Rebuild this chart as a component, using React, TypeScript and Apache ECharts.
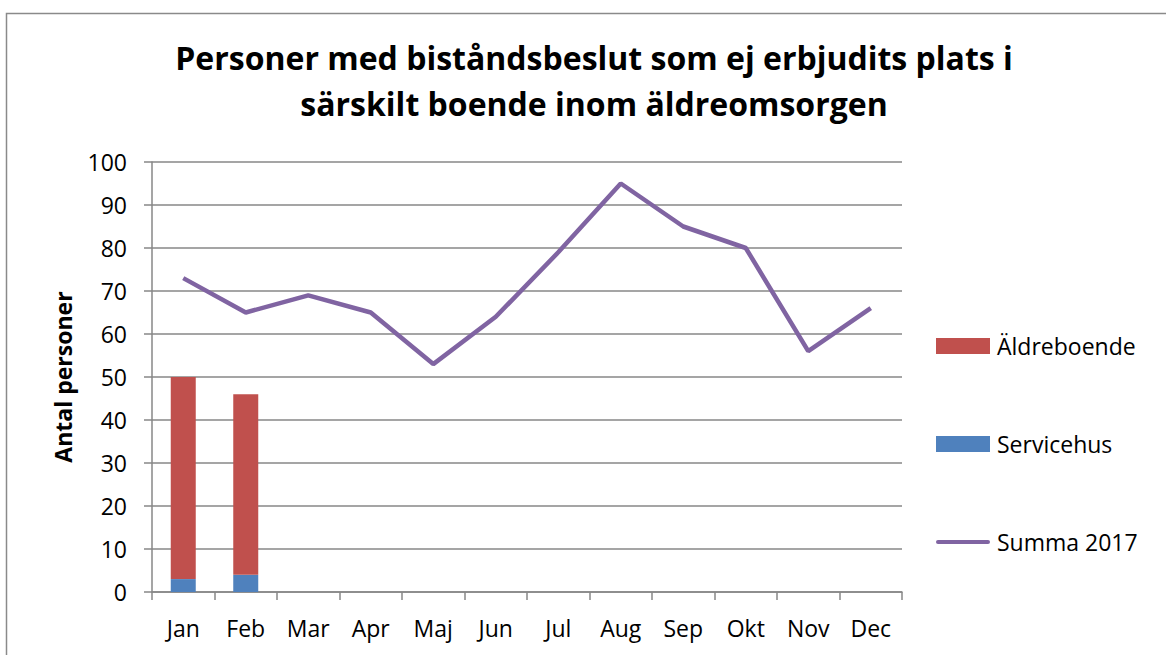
import React, { useEffect, useRef } from "react";
import * as echarts from "echarts";

const titleLines = [
  "Personer med biståndsbeslut som ej erbjudits plats i",
  "särskilt boende inom äldreomsorgen",
];
const months = ["Jan", "Feb", "Mar", "Apr", "Maj", "Jun", "Jul", "Aug", "Sep", "Okt", "Nov", "Dec"];
const servicehus = [3, 4, null, null, null, null, null, null, null, null, null, null];
const aldreboende = [47, 42, null, null, null, null, null, null, null, null, null, null];
const summa2017 = [73, 65, 69, 65, 53, 64, 79, 95, 85, 80, 56, 66];
const yAxisName = "Antal personer";

const FONT = "Open Sans";
const GRID_COLOR = "#878787";

export default function App() {
  const ref = useRef<HTMLDivElement>(null);
  useEffect(() => {
    if (!ref.current) return;
    const chart = echarts.init(ref.current, undefined, { renderer: "svg" });
    chart.setOption({
      animation: false,
      backgroundColor: "#ffffff",
      title: {
        text: titleLines.join("\n"),
        left: 594,
        textAlign: "center",
        top: 34,
        padding: 0,
        textStyle: {
          fontFamily: FONT,
          fontWeight: "bold",
          fontSize: 32,
          lineHeight: 46,
          color: "#000",
        },
      },
      graphic: [
        {
          type: "rect",
          left: 4,
          top: 11,
          shape: { width: 1200, height: 700 },
          style: { fill: "none", stroke: "#8a8a8a", lineWidth: 1.5 },
          silent: true,
        },
      ],
      legend: {
        orient: "vertical",
        left: 936,
        top: 334,
        itemWidth: 54,
        itemHeight: 16,
        itemGap: 74,
        padding: 0,
        textStyle: { fontFamily: FONT, fontSize: 23, color: "#000", lineHeight: 24, padding: [0, 0, 0, 2] },
        data: [
          { name: "Äldreboende", icon: "rect" },
          { name: "Servicehus", icon: "rect" },
          { name: "Summa 2017", icon: "path://M0,0 M54,16 M2,6 L52,6 A2,2 0 0 1 52,10 L2,10 A2,2 0 0 1 2,6 Z" },
        ],
      },
      grid: { left: 152, right: 264, top: 162, bottom: 63, containLabel: false },
      xAxis: {
        type: "category",
        data: months,
        boundaryGap: true,
        axisLine: { lineStyle: { color: GRID_COLOR, width: 1.5 } },
        axisTick: { show: true, interval: 0, length: 8, lineStyle: { color: GRID_COLOR, width: 1.5 } },
        axisLabel: { fontFamily: FONT, fontSize: 23, color: "#000", margin: 24, interval: 0 },
      },
      yAxis: {
        type: "value",
        min: 0,
        max: 100,
        interval: 10,
        name: yAxisName,
        nameLocation: "middle",
        nameRotate: 90,
        nameGap: 78,
        nameTextStyle: { fontFamily: FONT, fontWeight: "bold", fontSize: 23, color: "#000" },
        axisLine: { show: true, lineStyle: { color: GRID_COLOR, width: 1.5 } },
        axisTick: { show: true, length: 8, lineStyle: { color: GRID_COLOR, width: 1.5 } },
        axisLabel: { fontFamily: FONT, fontSize: 23, color: "#000", margin: 25 },
        splitLine: { show: true, lineStyle: { color: GRID_COLOR, width: 1.5 } },
      },
      series: [
        {
          name: "Servicehus",
          type: "bar",
          stack: "total",
          barWidth: 25,
          data: servicehus,
          itemStyle: { color: "#4F81BD" },
        },
        {
          name: "Äldreboende",
          type: "bar",
          stack: "total",
          barWidth: 25,
          data: aldreboende,
          itemStyle: { color: "#C0504D" },
        },
        {
          name: "Summa 2017",
          type: "line",
          data: summa2017,
          symbol: "none",
          lineStyle: { color: "#8064A2", width: 4.5 },
          itemStyle: { color: "#8064A2" },
        },
      ],
    });
    return () => chart.dispose();
  }, []);
  return <div ref={ref} style={{ width: 1166, height: 655, position: "absolute", left: 0, top: 0 }} />;
}
